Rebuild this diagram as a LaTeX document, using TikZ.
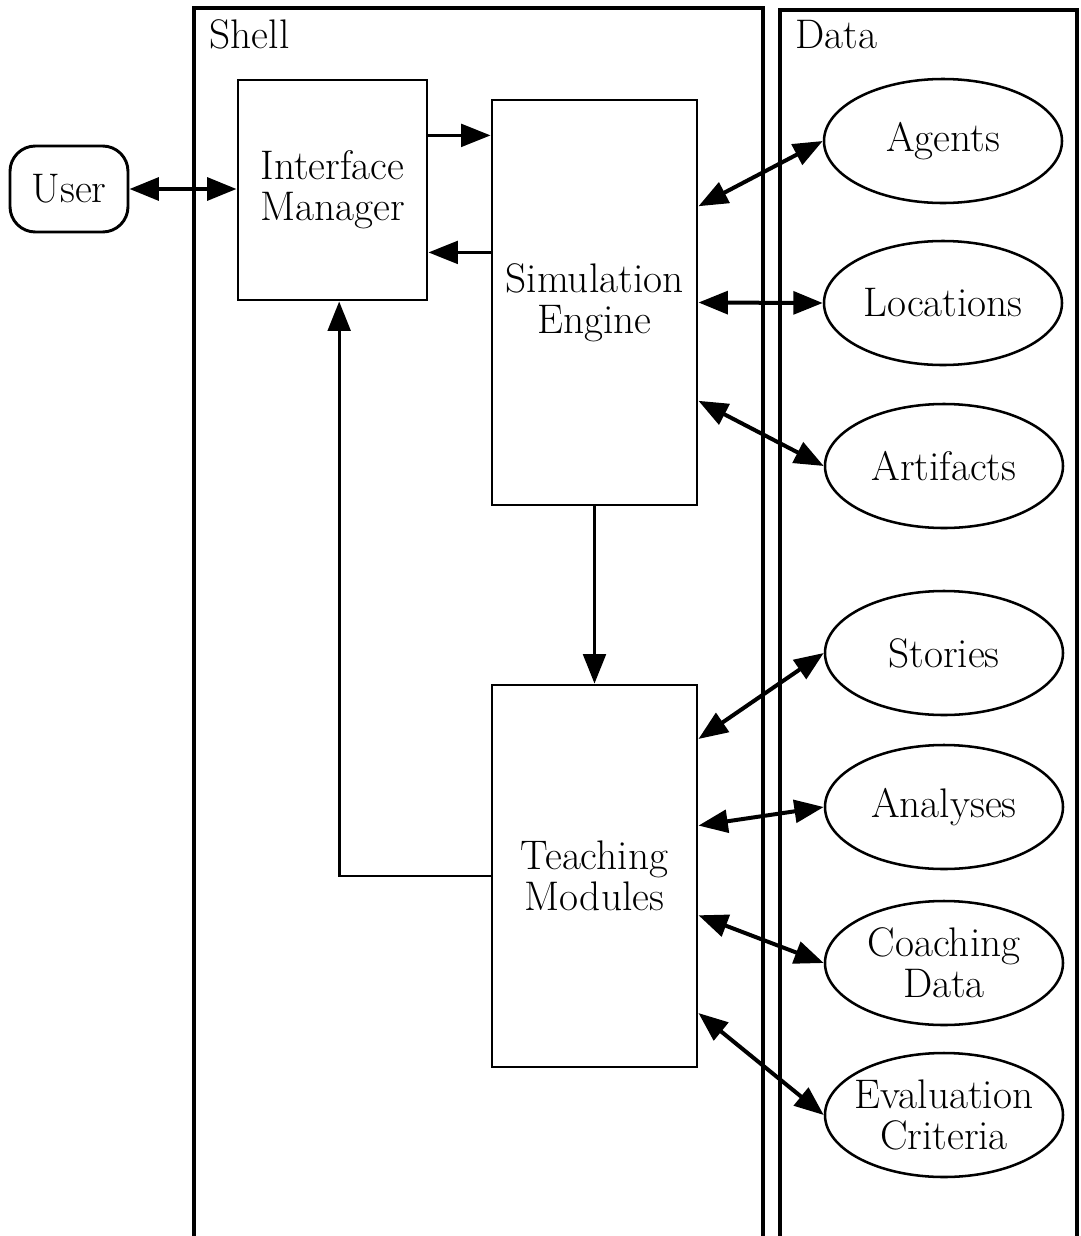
\documentclass[tikz,border=0pt]{standalone}
\usetikzlibrary{arrows.meta,shapes.geometric,calc}
\begin{document}
\begin{tikzpicture}[x=0.75pt,y=-0.75pt,
  txt/.style={font=\fontsize{31}{30.5}\selectfont, align=center},
  panel/.style={line width=2.3pt},
  box/.style={txt, draw, line width=2.2pt, rectangle, inner sep=0pt},
  store/.style={txt, draw, line width=1.9pt, ellipse, minimum width=178.5pt, minimum height=93pt, inner sep=0pt},
  arr/.style={line width=2.2pt, -{Triangle[length=22pt,width=17pt]}},
  link/.style={line width=3pt, {Triangle[length=22pt,width=17pt]}-{Triangle[length=22pt,width=17pt]}}]
\useasboundingbox (0,0) rectangle (1081,1236);
\clip (0,0) rectangle (1081,1236);

% the two panels, open at the bottom
\draw[panel] (194,1245) -- (194,8) -- (763,8) -- (763,1245);
\draw[panel] (780,1245) -- (780,10) -- (1077,10) -- (1077,1245);
\node[txt, anchor=base west] (shellLbl) at (205,48) {Shell};
\node[txt, anchor=base west] (dataLbl) at (791,48) {Data};

% components
\node[txt, draw, line width=2.2pt, rounded corners=19pt, minimum width=88.5pt, minimum height=64.5pt, inner sep=0pt] (user) at (69,189) {User};
\node[box, minimum width=141.75pt, minimum height=165pt] (im) at (332.5,190) {Interface\\Manager};
\node[box, minimum width=153.75pt, minimum height=303.75pt] (se) at (594.5,302.5) {Simulation\\Engine};
\node[box, minimum width=153.75pt, minimum height=286.5pt] (tm) at (594.5,876) {Teaching\\Modules};

% data stores
\node[store] (agents) at (943,141) {Agents};
\node[store] (locations) at (943,303) {Locations};
\node[store] (artifacts) at (944,466) {Artifacts};
\node[store] (stories) at (944,653) {Stories};
\node[store] (analyses) at (944,807) {Analyses};
\node[store, inner xsep=-4pt] (coaching) at (944,963) {Coaching\\Data};
\node[store, inner xsep=-13pt] (evaluation) at (944,1115) {Evaluation\\Criteria};

% shell connections
\draw[link] (user.east) -- (user.east -| im.west);
\coordinate (imOut) at ($(im.north east)!0.255!(im.south east)$);
\coordinate (imIn) at ($(im.north east)!0.78!(im.south east)$);
\draw[arr] (imOut) -- (imOut -| se.west);
\draw[arr] (imIn -| se.west) -- (imIn);
\draw[arr] (se.south) -- (tm.north);
\draw[arr] (tm.west) -| ([xshift=5pt]im.south);

% data connections
\draw[link] ($(se.north east)!0.264!(se.south east)$) -- (agents.west);
\draw[link] (se.east) -- (locations.west);
\draw[link] ($(se.north east)!0.741!(se.south east)$) -- (artifacts.west);
\draw[link] ($(tm.north east)!0.144!(tm.south east)$) -- (stories.west);
\draw[link] ($(tm.north east)!0.369!(tm.south east)$) -- (analyses.west);
\draw[link] ($(tm.north east)!0.602!(tm.south east)$) -- (coaching.west);
\draw[link] ($(tm.north east)!0.856!(tm.south east)$) -- (evaluation.west);
\end{tikzpicture}
\end{document}
